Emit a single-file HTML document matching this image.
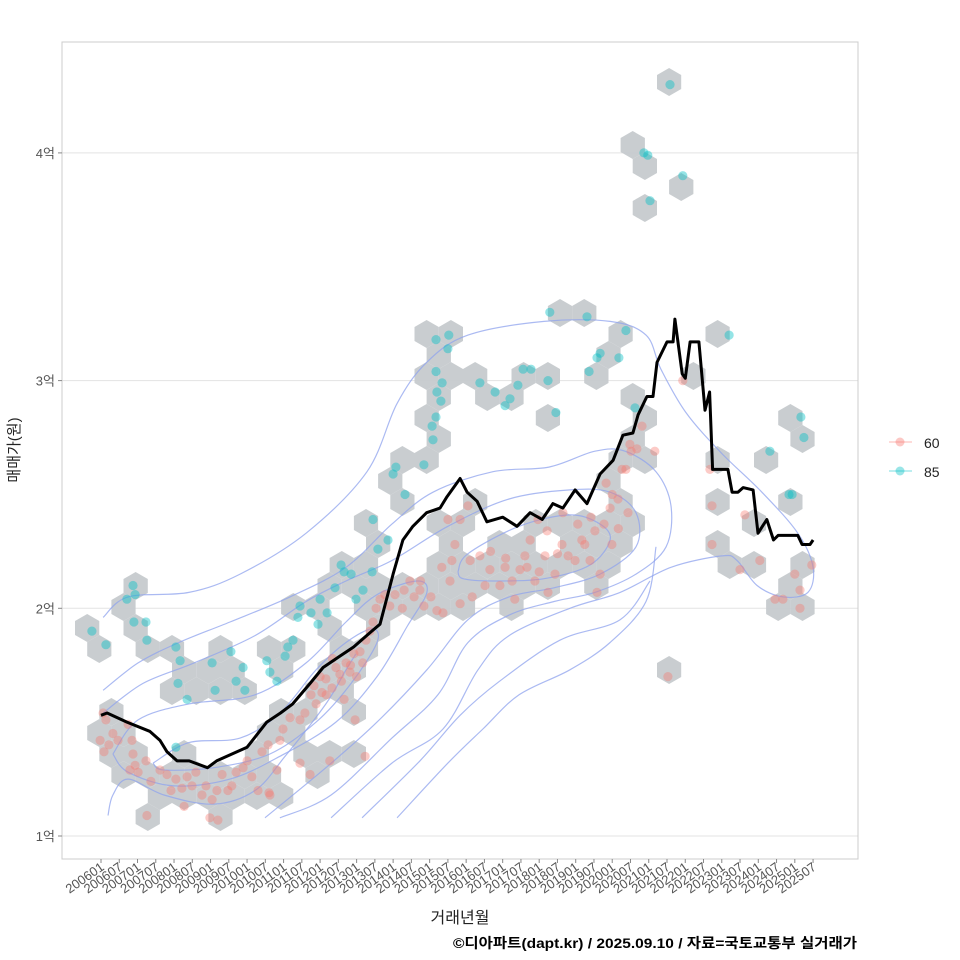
<!DOCTYPE html>
<html><head><meta charset="utf-8"><style>
html,body{margin:0;padding:0;background:#fff;}
svg{display:block;font-family:"Liberation Sans","Noto Sans CJK KR",sans-serif;}
</style></head><body>
<svg id="chart" width="960" height="960" viewBox="0 0 960 960" xmlns="http://www.w3.org/2000/svg">
<rect x="0" y="0" width="960" height="960" fill="#fff"/>
<g id="grid"></g>
<g id="hexes"></g>
<g id="contours"></g>
<g id="points"></g>
<g id="line"></g>
<rect x="62" y="42" width="796" height="817" fill="none" stroke="#cccccc" stroke-width="1"/>
<g id="axes"></g>
<text transform="translate(19,450) rotate(-90)" text-anchor="middle" font-size="15" fill="#222">매매가(원)</text>
<text x="460" y="923" text-anchor="middle" font-size="16" fill="#222">거래년월</text>
<text x="453" y="948" textLength="404" lengthAdjust="spacingAndGlyphs" font-size="14" font-weight="bold" fill="#000">©디아파트(dapt.kr) / 2025.09.10 / 자료=국토교통부 실거래가</text>
<g>
<g>
<line x1="889" y1="442" x2="912" y2="442" stroke="#f8766d" stroke-opacity="0.35" stroke-width="1.5"/>
<circle cx="900" cy="442" r="4.5" fill="#f8766d" fill-opacity="0.4"/>
<text x="924" y="448" font-size="14" fill="#222">60</text>
</g>
<g>
<line x1="889" y1="471" x2="912" y2="471" stroke="#00bfc4" stroke-opacity="0.35" stroke-width="1.5"/>
<circle cx="900" cy="471" r="4.5" fill="#00bfc4" fill-opacity="0.4"/>
<text x="924" y="477" font-size="14" fill="#222">85</text>
</g>
</g>
</svg>
<script>
const yTicks = [1, 2, 3, 4];
const yTickLabels = ["1억", "2억", "3억", "4억"];
const xTickLabels = ["200601","200607","200701","200707","200801","200807","200901","200907","201001","201007","201101","201107","201201","201207","201301","201307","201401","201407","201501","201507","201601","201607","201701","201707","201801","201807","201901","201907","202001","202007","202101","202107","202201","202207","202301","202307","202401","202407","202501","202507"];
const lineMonths = [0,2,8.5,16,19.4,21.7,25,29,35,38,44.7,48,54.5,59,63,68.7,73,78.5,83,89,91.7,96,99.2,102.5,107,111.4,113.7,118,120.3,123.6,126.8,132,136.7,141,145,148.5,151.8,155.8,159.7,164,168.3,171.5,174.8,176.5,179.4,181.4,182.7,186,188,188.6,191,192,193.6,196.5,198.5,200,201,206,207.4,209.3,211,214.3,215.9,218.8,221,222.5,229,230.4,233,234];
const linePrices = [1.53,1.54,1.50,1.46,1.42,1.37,1.33,1.33,1.30,1.33,1.37,1.39,1.50,1.54,1.58,1.67,1.74,1.79,1.83,1.90,1.93,2.15,2.30,2.36,2.42,2.44,2.49,2.57,2.51,2.47,2.38,2.40,2.36,2.42,2.39,2.46,2.44,2.52,2.46,2.59,2.65,2.76,2.77,2.85,2.93,2.93,3.08,3.17,3.17,3.27,3.03,3.01,3.17,3.17,2.87,2.95,2.61,2.61,2.51,2.51,2.53,2.52,2.33,2.39,2.30,2.32,2.32,2.28,2.28,2.30];
const pts60 = [[0.7,1.54],[1.6,1.51],[-0.3,1.42],[1,1.37],[2.6,1.40],[3.9,1.45],[5.6,1.42],[8.9,1.49],[10.2,1.42],[10.5,1.36],[11.2,1.31],[9.5,1.29],[12.2,1.28],[14.8,1.33],[16.4,1.24],[19.4,1.29],[21.7,1.27],[23,1.20],[24.6,1.25],[26.6,1.21],[28.3,1.26],[29.9,1.22],[31.2,1.28],[33.2,1.18],[34.5,1.22],[36.5,1.16],[38.1,1.20],[39.8,1.27],[41.7,1.20],[43,1.22],[44.4,1.28],[46.7,1.30],[48,1.33],[49.6,1.26],[51.6,1.20],[52.9,1.37],[55.5,1.18],[35.8,1.08],[38.4,1.07],[27.3,1.13],[15.1,1.09],
[54.9,1.40],[58.8,1.42],[59.8,1.47],[62.1,1.52],[65.4,1.51],[67,1.54],[69,1.62],[70.7,1.58],[72.6,1.63],[73.9,1.69],[75.9,1.65],[77.2,1.74],[78.5,1.71],[80.5,1.76],[81.8,1.72],[83.1,1.80],[85.1,1.81],[87.1,1.86],[88.4,1.90],[89.4,1.94],[90.4,2.00],[91.7,2.04],[93.3,2.06],[94.9,2.01],[65.4,1.32],[68.7,1.27],[75.2,1.33],[79.9,1.60],[83.5,1.51],[86.8,1.35],[55.2,1.19],[57.8,1.29],[72,1.70],[76,1.78],[79,1.68],[82,1.75],[84,1.70],[74,1.62],[70,1.66],[86,1.76],
[96.6,2.06],[99.6,2.08],[101.5,2.12],[102.9,2.05],[104.8,2.08],[106.1,2.01],[108.4,2.05],[110.4,1.99],[112.4,1.98],[114.7,2.12],[115.3,2.21],[116.3,2.28],[118,2.39],[120.6,2.45],[114,2.39],[121.3,2.21],[124.5,2.23],[126.2,2.10],[127.8,2.17],[131.1,2.10],[132.8,2.18],[135.1,2.12],[136,2.04],[137.7,2.17],[139.3,2.23],[141,2.30],[142.6,2.12],[145.9,2.23],[146.9,2.07],[149.2,2.15],[151.5,2.28],[153.5,2.23],[155.8,2.21],[156.7,2.37],[159,2.28],[160.7,2.21],[162.3,2.34],[164,2.15],[165.3,2.37],[167.3,2.44],[169.9,2.48],[171.2,2.61],[172.5,2.61],[174.2,2.69],[176.1,2.70],[173.2,2.42],[177.8,2.80],[182,2.69],[167.9,2.28],[163,2.07],[151.8,2.42],[146.6,2.34],[143.6,2.39],[128,2.25],[133,2.22],[140,2.18],[144,2.16],[150,2.24],[158,2.30],[161,2.40],[166,2.55],[168,2.50],[170,2.35],[105,2.12],[112,2.18],[118,2.02],[122,2.05],[99,2.0],
[191.2,3.0],[200.1,2.61],[200.8,2.45],[200.8,2.28],[210,2.17],[216.5,2.21],[221.5,2.04],[224.1,2.04],[229.7,2.08],[229.7,2.0],[228,2.15],[233.6,2.19],[186.3,1.70],[173.8,2.72],[211.6,2.41]];
const pts85 = [[-3,1.90],[1.6,1.84],[8.5,2.04],[10.5,2.10],[11.2,2.06],[10.8,1.94],[14.8,1.94],[15.1,1.86],[24.6,1.83],[26,1.77],[25.3,1.67],[28.3,1.60],[24.6,1.39],[36.5,1.76],[37.5,1.64],[42.7,1.81],[44.4,1.68],[46.7,1.74],[47.3,1.64],[54.5,1.77],[55.5,1.72],[57.8,1.68],[60.5,1.79],[61.4,1.83],[64.7,1.96],[63.1,1.86],[65.4,2.01],[69,1.98],[71.3,1.93],[72,2.04],[74.3,1.98],[76.9,2.09],[78.9,2.19],[79.9,2.16],[82.2,2.15],[83.8,2.04],[86.1,2.08],[89.1,2.16],[91,2.26],[89.4,2.39],[94.3,2.30],[96,2.59],[96.9,2.62],[99.9,2.50],[106.1,2.63],[108.8,2.80],[109.1,2.74],[110.1,2.84],[111.7,2.91],[110.4,2.95],[112.1,2.99],[110.1,3.04],[110.1,3.18],[114,3.14],[114.3,3.20],[124.5,2.99],[129.5,2.95],[132.8,2.89],[134.4,2.92],[137,2.98],[138.7,3.05],[141.3,3.05],[146.9,3.00],[149.5,2.86],[147.5,3.30],[159.7,3.28],[160.4,3.04],[163,3.10],[164,3.12],[170.2,3.10],[172.5,3.22],[175.5,2.88],[178.4,4.00],[179.7,3.99],[180.4,3.79],[187,4.30],[191.2,3.90],[206.4,3.20],[219.8,2.69],[226.1,2.50],[227.1,2.50],[230,2.84],[231,2.75]];
const contourA = [[0.7,1.96],[8.9,2.05],[28.9,2.07],[45.7,2.15],[67.4,2.33],[87.4,2.60],[97.3,2.90],[107,3.08],[120.6,3.20],[145.6,3.26],[167.3,3.26],[179.1,3.20],[184,3.05],[192.2,2.86],[204,2.68],[217.2,2.51],[229,2.33],[234,2.18],[232.3,2.07],[224.1,2.05],[215.6,2.10],[209,2.21],[204,2.23],[187.3,2.18],[170.6,2.07],[154.1,2.00],[134.1,1.88],[123.9,1.73],[112.4,1.47],[95.6,1.32],[75.6,1.08]];
const contourB = [[0.7,1.64],[12.2,1.76],[25.6,1.85],[42.4,1.94],[62.1,2.05],[80.5,2.18],[95.6,2.37],[109.1,2.51],[128.8,2.60],[147.2,2.62],[162.3,2.69],[172.2,2.69],[182.4,2.60],[187.3,2.45],[185.7,2.27],[175.8,2.15],[162.3,2.07],[148.9,2.03],[134.1,1.97],[120.6,1.85],[110.7,1.62],[95.6,1.43],[75.6,1.18],[58.8,1.08]];
const contourC = [[0.7,1.54],[13.8,1.67],[30.6,1.76],[50.6,1.88],[67.4,2.03],[80.5,2.12],[95.6,2.21],[114,2.36],[134.1,2.48],[154.1,2.52],[167.3,2.51],[175.8,2.42],[175.8,2.27],[164,2.15],[148.9,2.09],[134.1,2.05],[120.6,1.95],[107.1,1.73],[90.7,1.50],[73.9,1.30],[53.9,1.08]];
const contourD = [[117.3,2.16],[120.6,2.24],[137.4,2.36],[154.1,2.41],[164,2.37],[167.3,2.30],[160.7,2.19],[145.6,2.13],[128.8,2.12],[119,2.13],[117.3,2.16]];
const contourE = [[3.9,1.36],[12.2,1.51],[28.9,1.58],[50.6,1.62],[67.4,1.76],[80.5,1.94],[90.7,2.06],[103.8,2.12],[107.1,2.07],[100.6,1.92],[90.7,1.70],[77.2,1.50],[58.8,1.35],[42.4,1.25],[24,1.22],[8.9,1.28],[3.9,1.36]];
const contourF = [[17.1,1.32],[28.9,1.41],[45.7,1.43],[58.8,1.54],[70.7,1.73],[80.5,1.85],[89.1,1.91],[90.7,1.85],[82.2,1.67],[70.7,1.50],[55.5,1.36],[37.1,1.30],[20.7,1.29],[17.1,1.32]];
const contourH = [[2.3,1.09],[3.9,1.18],[8.9,1.25],[20.7,1.18],[37.1,1.14],[50.6,1.20],[60.5,1.35],[73.9,1.58],[80.5,1.73],[83.8,1.80]];
const contourI = [[97.3,1.08],[114,1.32],[125.5,1.47],[137.4,1.62],[154.1,1.73],[167.3,1.85],[179.1,2.03],[182.4,2.27]];
const contourJ = [[85.8,1.08],[104.8,1.33],[118,1.53],[131,1.68],[150.8,1.86],[170.6,1.95],[180.4,2.12]];

const NS = "http://www.w3.org/2000/svg";
const X0 = 101, XPM = 3.043, Y1 = 836, YPU = 227.7;
function xScale(m){ return X0 + m * XPM; }
function yScale(p){ return Y1 - (p - 1) * YPU; }
function mk(tag, parent, attrs){
  const e = document.createElementNS(NS, tag);
  for (const k in attrs) e.setAttribute(k, attrs[k]);
  parent.appendChild(e);
  return e;
}

const grid = document.getElementById('grid');
const axes = document.getElementById('axes');
yTicks.forEach((v, i) => {
  const y = yScale(v);
  const gl = mk('line', grid, {x1: 62, x2: 858, y1: y, y2: y, stroke: '#e3e3e3', 'stroke-width': 1});
  
  
  const tk = mk('line', axes, {x1: 58, x2: 62, y1: y, y2: y, stroke: '#888', 'stroke-width': 1});
  
  
  const t = mk('text', axes, {x: 55, y: y + 5, 'text-anchor': 'end', 'font-size': 13, fill: '#555'});
  t.textContent = yTickLabels[i];
  
  
});
xTickLabels.forEach((lab, i) => {
  const x = xScale(i * 6);
  const tk = mk('line', axes, {x1: x, x2: x, y1: 859, y2: 863, stroke: '#888', 'stroke-width': 1});
  
  
  const t = mk('text', axes, {x: 0, y: 0, 'text-anchor': 'end', 'font-size': 13, fill: '#555', transform: 'translate(' + (x + 4) + ',869) rotate(-35)'});
  t.textContent = lab;
  
  
});

const HR = 14, HDX = HR * Math.sqrt(3), HDY = HR * 1.5, HOX = 560, HOY = 313;
const bins = {};
function binPoint(px, py){
  let fy = (py - HOY) / HDY, pj = Math.round(fy);
  let fx = (px - HOX) / HDX - (pj & 1) / 2, pi = Math.round(fx);
  const py1 = fy - pj;
  if (Math.abs(py1) * 3 > 1) {
    const px1 = fx - pi;
    const pi2 = pi + (fx < pi ? -1 : 1) / 2;
    const pj2 = pj + (fy < pj ? -1 : 1);
    const px2 = fx - pi2, py2 = fy - pj2;
    if (px1 * px1 + py1 * py1 > px2 * px2 + py2 * py2) { pi = pi2 + ((pj & 1) ? 1 : -1) / 2; pj = pj2; }
  }
  const key = pi + ',' + pj;
  bins[key] = [(pi + (pj & 1) / 2) * HDX + HOX, pj * HDY + HOY];
}
pts60.concat(pts85).forEach(p => binPoint(xScale(p[0]), yScale(p[1])));
const hexG = document.getElementById('hexes');
Object.keys(bins).forEach(k => {
  const c = bins[k];
  let d = '';
  for (let a = 0; a < 6; a++) {
    const ang = Math.PI / 3 * a + Math.PI / 6;
    d += (a ? 'L' : 'M') + (c[0] + HR * Math.cos(ang)).toFixed(1) + ',' + (c[1] + HR * Math.sin(ang)).toFixed(1);
  }
  const h = mk('path', hexG, {d: d + 'Z', fill: '#c6cacd', 'fill-opacity': 0.95});
  
  
});

function smoothPath(arr){
  const P = arr.map(p => [xScale(p[0]), yScale(p[1])]);
  let d = 'M' + P[0][0].toFixed(1) + ',' + P[0][1].toFixed(1);
  for (let i = 0; i < P.length - 1; i++) {
    const p0 = P[Math.max(0, i - 1)], p1 = P[i], p2 = P[i + 1], p3 = P[Math.min(P.length - 1, i + 2)];
    const c1 = [p1[0] + (p2[0] - p0[0]) / 6, p1[1] + (p2[1] - p0[1]) / 6];
    const c2 = [p2[0] - (p3[0] - p1[0]) / 6, p2[1] - (p3[1] - p1[1]) / 6];
    d += 'C' + c1[0].toFixed(1) + ',' + c1[1].toFixed(1) + ' ' + c2[0].toFixed(1) + ',' + c2[1].toFixed(1) + ' ' + p2[0].toFixed(1) + ',' + p2[1].toFixed(1);
  }
  return d;
}
const cG = document.getElementById('contours');
[contourA, contourB, contourC, contourD, contourE, contourF, contourH, contourI, contourJ].forEach(c => {
  const p = mk('path', cG, {d: smoothPath(c), fill: 'none', stroke: '#8fa3ee', 'stroke-opacity': 0.75, 'stroke-width': 1.2});
  
  
});

const pG = document.getElementById('points');
pts60.forEach(p => {
  const c = mk('circle', pG, {cx: xScale(p[0]).toFixed(1), cy: yScale(p[1]).toFixed(1), r: 4.6, fill: '#f8766d', 'fill-opacity': 0.38});
  
  
});
pts85.forEach(p => {
  const c = mk('circle', pG, {cx: xScale(p[0]).toFixed(1), cy: yScale(p[1]).toFixed(1), r: 4.6, fill: '#00bfc4', 'fill-opacity': 0.42});
  
  
});

const lG = document.getElementById('line');
const ld = lineMonths.map((m, i) => (i ? 'L' : 'M') + xScale(m).toFixed(1) + ',' + yScale(linePrices[i]).toFixed(1)).join('');
const ln = mk('path', lG, {d: ld, fill: 'none', stroke: '#000', 'stroke-width': 3, 'stroke-linejoin': 'round'});


</script>
</body></html>
